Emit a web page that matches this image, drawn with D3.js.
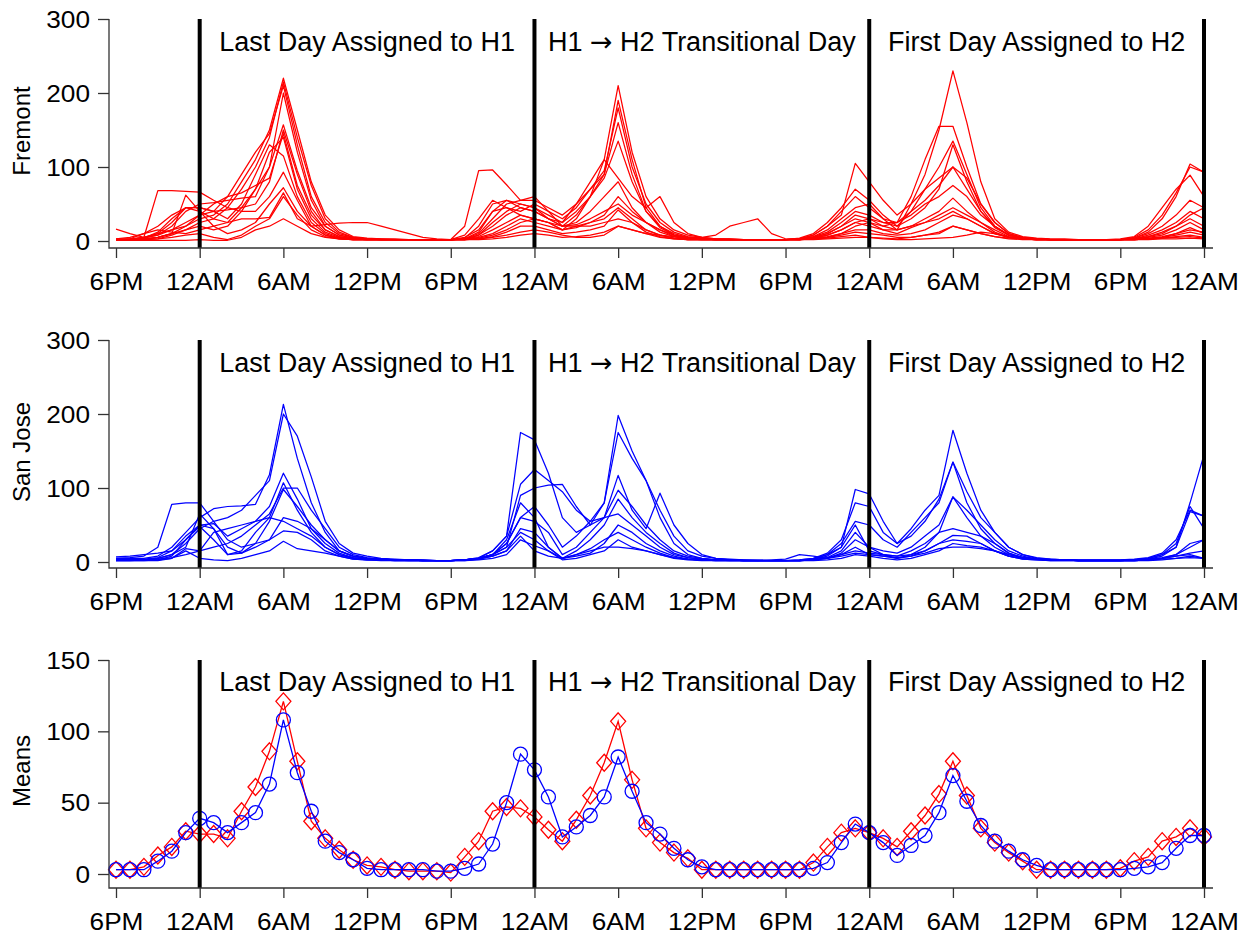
<!DOCTYPE html>
<html>
<head>
<meta charset="utf-8">
<script src="https://cdn.jsdelivr.net/npm/d3@7"></script>
<style>
  body { margin: 0; background: #fff; }
  text { font-family: "Liberation Sans", Arial, Helvetica, sans-serif; fill: #000; }
</style>
</head>
<body>
<svg id="chart" width="1252" height="939"></svg>
<script>
// hours since 6PM on the evening before the last H1 day
var tickHours = [0, 6, 12, 18, 24, 30, 36, 42, 48, 54, 60, 66, 72, 78];
var tickLabels = ['6PM', '12AM', '6AM', '12PM', '6PM', '12AM', '6AM', '12PM', '6PM', '12AM', '6AM', '12PM', '6PM', '12AM'];
var dayBreaks = [6, 30, 54, 78];
var dayLabelHours = [18, 42, 66];
// each label split around the arrow so the arrow can use a font that has a proper glyph
var dayLabels = [['Last Day Assigned to H1'], ['H1 ', '\u2192', ' H2 Transitional Day'], ['First Day Assigned to H2']];

// hourly counts, Fremont (one row per transition)
var fremont = [
  [2,2,3,5,10,20, 30,35,50,80,110,150, 220,150,80,35,15,6, 4,3,3,2,2,2, 2,5,15,40,55,50, 45,35,25,50,80,110, 210,120,60,30,15,8, 5,3,3,2,2,2, 2,3,8,20,40,60, 45,30,15,50,90,150, 230,160,80,30,12,6, 4,3,3,2,2,2, 2,5,15,35,65,100, 93],
  [1,1,2,3,8,15, 25,30,45,70,100,140, 215,140,75,30,12,5, 3,2,2,2,1,1, 1,4,20,50,55,45, 40,30,20,35,60,90, 190,110,45,20,10,5, 3,2,2,2,2,2, 2,4,10,25,45,70, 55,35,20,40,70,100, 135,90,45,20,8,4, 3,2,2,2,2,2, 3,6,20,45,70,89, 60],
  [3,2,5,10,25,45, 45,40,60,90,120,145, 210,130,60,25,10,5, 3,3,2,2,2,2, 2,8,30,55,45,40, 50,40,30,45,70,95, 180,100,50,25,12,6, 4,3,3,2,2,2, 2,3,6,15,30,45, 50,30,25,60,110,155, 155,100,50,25,10,5, 3,2,2,2,2,2, 2,4,10,20,35,55, 45],
  [2,3,4,8,20,40, 50,52,55,58,60,100, 200,120,55,20,8,4, 3,2,2,2,2,2, 2,3,10,30,50,55, 55,45,35,50,70,90, 160,90,40,18,8,4, 3,2,2,2,2,2, 2,3,8,20,35,105, 80,55,35,50,70,85, 100,70,40,20,8,4, 3,2,2,2,2,2, 2,4,12,30,60,104, 93],
  [1,2,4,12,30,45, 40,30,25,45,70,100, 157,95,45,20,8,4, 3,2,2,2,2,2, 2,3,8,25,40,50, 45,30,25,40,60,85, 135,80,40,20,8,5, 3,2,2,2,2,2, 2,3,6,12,25,40, 35,25,20,30,45,70, 130,80,40,18,8,4, 3,2,2,2,2,2, 2,3,8,15,25,40, 30],
  [16,10,5,8,15,25, 35,40,42,45,50,80, 150,90,40,15,6,3, 2,2,2,2,2,2, 2,3,12,40,45,35, 30,25,15,30,60,110, 85,60,45,60,25,10, 5,3,2,2,2,2, 2,3,5,10,20,35, 30,20,25,40,55,75, 100,85,50,25,10,5, 3,2,2,2,2,2, 2,3,6,10,20,30, 20],
  [2,3,5,10,15,20, 35,50,60,65,75,85, 145,75,35,15,6,3, 2,2,2,2,2,2, 2,2,8,20,35,45, 40,30,20,25,40,60, 80,45,25,15,8,4, 3,2,2,2,2,2, 2,2,4,8,15,25, 30,25,25,35,50,60, 75,60,35,20,8,4, 3,2,2,2,2,2, 2,3,5,8,15,25, 15],
  [1,1,2,5,10,15, 20,15,20,40,70,120, 140,70,30,12,5,3, 2,2,2,2,2,2, 2,20,95,96,76,55, 60,40,20,20,25,35, 60,40,25,12,6,3, 2,2,2,2,2,2, 2,2,5,10,20,30, 25,15,15,20,30,40, 58,40,25,15,6,3, 2,2,2,2,2,2, 2,3,6,12,20,35, 45],
  [3,5,10,20,35,45, 45,40,30,50,90,130, 115,60,25,10,4,2, 2,2,2,2,2,2, 2,3,6,15,25,35, 30,25,20,22,30,40, 50,35,25,15,6,3, 2,2,2,2,2,2, 2,2,4,8,15,25, 20,15,10,18,25,35, 45,35,25,12,5,3, 2,2,2,2,2,2, 2,2,4,6,10,18, 10],
  [2,2,5,68,68,67, 66,55,45,40,40,60, 93,55,20,8,4,2, 2,2,2,2,2,2, 2,2,5,10,20,30, 25,20,15,18,25,30, 45,30,15,8,4,2, 2,2,2,2,2,2, 2,2,4,6,10,20, 25,20,15,20,25,30, 40,30,20,10,5,3, 2,2,2,2,2,2, 2,2,3,5,10,15, 12],
  [1,2,3,5,10,62, 40,20,10,15,25,50, 72,40,20,8,3,2, 2,2,2,2,2,2, 2,2,4,8,15,25, 30,25,15,20,20,25, 30,25,15,8,4,2, 2,2,2,2,2,2, 2,2,3,5,10,15, 15,10,8,10,15,25, 35,30,20,10,5,3, 2,2,2,2,2,2, 2,2,3,5,8,12, 8],
  [2,3,10,15,12,10, 15,20,25,30,30,32, 65,30,20,22,24,25, 25,20,15,10,5,3, 2,2,3,5,8,12, 15,12,8,5,5,8, 20,15,10,8,6,5, 5,8,20,25,30,10, 3,2,3,5,8,12, 10,8,5,5,8,10, 20,15,10,6,4,3, 2,2,2,2,2,2, 2,2,3,4,6,8, 5],
  [2,2,2,3,5,8, 10,5,2,8,20,30, 60,35,15,6,3,2, 2,2,2,2,2,2, 2,2,3,6,12,20, 20,15,10,12,15,20, 42,25,12,6,3,2, 2,2,2,2,2,2, 2,2,3,4,6,8, 5,3,2,2,3,4, 5,8,12,10,6,3, 2,2,2,2,2,2, 2,2,3,4,5,6, 4],
  [1,1,1,1,1,1, 2,1,1,5,15,20, 30,20,10,5,3,2, 2,2,2,2,2,2, 2,2,2,3,5,8, 10,8,5,6,8,12, 20,15,10,5,3,2, 2,2,2,2,2,2, 2,2,2,3,4,5, 5,4,3,5,8,12, 20,15,10,6,3,2, 2,2,2,2,2,2, 2,2,2,3,3,4, 3]
];

// hourly counts, San Jose
var sanJose = [
  [5,5,5,8,20,40, 60,72,75,76,78,118, 213,140,80,40,15,8, 5,4,3,3,2,2, 2,3,5,10,25,60, 75,50,20,35,55,80, 198,150,110,60,25,10, 5,3,3,2,2,2, 2,3,5,10,25,55, 50,30,20,40,60,80, 135,80,45,25,12,6, 4,3,3,2,2,2, 2,3,5,10,20,80, 145],
  [3,3,3,5,10,25, 45,55,60,70,90,110, 200,170,115,55,25,12, 8,5,4,3,3,2, 2,3,5,15,35,175, 165,120,60,40,50,80, 175,140,110,70,35,15, 8,5,4,3,3,2, 2,3,5,12,30,80, 75,40,25,45,70,90, 178,120,70,40,20,10, 6,4,3,3,3,3, 3,4,6,12,30,70, 62],
  [7,8,10,12,15,30, 50,52,35,45,55,75, 120,85,45,25,12,6, 4,3,3,2,2,2, 2,3,6,15,35,105, 125,110,95,70,55,60, 117,70,45,93,50,25, 10,5,3,3,2,2, 2,2,4,10,20,98, 92,55,25,35,55,85, 135,95,60,40,20,10, 5,4,3,3,3,3, 3,3,5,10,25,75, 45],
  [2,2,3,5,10,20, 65,45,10,15,40,60, 107,70,40,20,10,5, 3,3,2,2,2,2, 2,3,5,10,20,90, 100,104,105,75,50,60, 97,75,50,30,15,8, 5,3,3,2,2,2, 2,2,3,6,15,40, 20,15,12,20,35,50, 88,70,50,30,15,8, 4,3,3,2,2,2, 2,3,4,6,10,20, 30],
  [4,4,4,6,15,35, 50,45,20,12,25,55, 98,75,50,30,15,8, 5,4,3,3,3,2, 2,3,5,10,30,80, 60,20,5,15,30,50, 85,60,40,25,12,6, 4,3,3,2,2,2, 2,2,4,8,20,50, 15,10,8,15,25,40, 88,60,35,20,10,6, 4,3,3,2,2,2, 2,3,4,8,20,68, 62],
  [3,3,3,3,5,18, 15,40,45,50,55,60, 55,45,35,20,10,6, 4,3,3,3,2,2, 2,3,5,10,25,60, 55,40,10,20,40,60, 65,50,35,20,10,6, 4,3,3,2,2,2, 2,2,3,6,10,20, 10,8,5,10,20,40, 45,40,35,25,12,6, 4,3,3,2,2,2, 2,2,3,5,10,25, 30],
  [2,2,2,3,8,30, 48,30,10,12,20,30, 42,40,30,15,8,4, 3,3,2,2,2,2, 2,2,4,8,15,45, 40,20,5,10,18,30, 40,30,20,12,6,4, 3,3,2,2,2,2, 2,2,3,5,10,15, 12,10,8,10,15,25, 36,35,25,15,8,5, 4,3,3,2,2,2, 2,2,3,5,8,12, 15],
  [2,2,2,2,5,15, 5,3,2,5,10,15, 28,18,15,12,8,4, 3,2,2,2,2,2, 2,2,3,5,10,30, 22,15,3,5,10,15, 30,20,15,10,5,3, 2,2,2,2,2,2, 2,2,2,3,5,10, 8,5,3,5,10,15, 25,22,20,15,8,4, 3,2,2,2,2,2, 2,2,2,3,5,8, 5],
  [5,6,8,20,78,80, 80,55,30,20,25,30, 60,55,45,30,15,8, 5,4,3,3,2,2, 2,3,5,10,20,40, 30,15,5,8,12,25, 50,40,25,15,8,4, 3,2,2,2,2,2, 2,2,3,5,12,30, 20,10,5,8,15,25, 30,28,25,15,8,4, 3,2,2,2,2,2, 2,2,3,5,8,10, 5],
  [3,3,3,4,6,10, 15,20,25,35,50,65, 100,100,70,45,20,10, 6,4,3,3,2,2, 2,3,4,8,15,35, 15,8,5,10,15,20, 20,18,15,10,6,4, 3,2,2,2,2,3, 4,10,8,5,8,12, 10,8,6,8,12,18, 20,20,18,15,10,6, 4,3,3,2,2,2, 2,2,3,4,5,6, 5]
];

// hourly means (red diamonds = Fremont, blue circles = San Jose)
var meanFremont = [3,3,5,13,19,30, 28,28,25,44,61,86, 121,79,37,25,17,10, 6,5,3,2,2,2, 1,12,23,44,47,46, 40,31,23,38,55,78, 107,66,32,22,15,11, 3,3,3,3,3,3, 3,3,8,19,29,32, 29,25,19,30,41,56, 79,55,32,22,15,9, 3,3,3,3,3,3, 4,9,12,23,26,32, 26];
var meanSanJose = [3,3,3,9,16,29, 39,36,29,36,43,63, 108,71,44,23,15,10, 4,3,3,3,3,2, 2,4,7,21,50,84, 73,54,26,33,41,54, 82,58,36,28,18,10, 5,3,3,3,3,3, 3,3,4,8,22,35, 29,22,13,20,27,43, 69,51,34,23,16,10, 6,3,3,3,3,3, 3,4,5,8,18,27, 27];

var panels = [
  { title: 'Fremont', yMax: 300, yTicks: [0, 100, 200, 300], zero: 241, top: 19, axisY: 248, titleY: 131 },
  { title: 'San Jose', yMax: 300, yTicks: [0, 100, 200, 300], zero: 562, top: 340, axisY: 568, titleY: 452 },
  { title: 'Means', yMax: 150, yTicks: [0, 50, 100, 150], zero: 874, top: 660, axisY: 888, titleY: 771 }
];

var svg = d3.select('#chart');
var x = d3.scaleLinear().domain([0, 78]).range([116, 1204]);
var axisLeftX = 109, axisRightX = 1213;
var stretch = 1.14;

panels.forEach(function(p, pi) {
  var y = d3.scaleLinear().domain([0, p.yMax]).range([p.zero, p.top]);
  var g = svg.append('g');

  var line = d3.line()
    .x(function(d, i) { return x(i); })
    .y(function(d) { return y(d); });

  // data
  if (pi < 2) {
    var rows = pi === 0 ? fremont : sanJose;
    var color = pi === 0 ? '#ff0000' : '#0000ff';
    g.append('g').selectAll('path')
      .data(rows).enter().append('path')
      .attr('d', line)
      .style('fill', 'none')
      .style('stroke', color)
      .style('stroke-width', 1.25)
      .style('stroke-linejoin', 'round');
  } else {
    var series = [
      { vals: meanFremont, color: '#ff0000', shape: 'diamond' },
      { vals: meanSanJose, color: '#0000ff', shape: 'circle' }
    ];
    series.forEach(function(s) {
      g.append('path')
        .attr('d', line(s.vals))
        .style('fill', 'none')
        .style('stroke', s.color)
        .style('stroke-width', 1.3);
      var pts = g.append('g').selectAll('.pt')
        .data(s.vals).enter();
      if (s.shape === 'diamond') {
        pts.append('path')
          .attr('d', 'M0,-8.5L7.5,0L0,8.5L-7.5,0Z')
          .attr('transform', function(d, i) { return 'translate(' + x(i) + ',' + y(d) + ')'; })
          .style('fill', 'none')
          .style('stroke', s.color)
          .style('stroke-width', 1.3);
      } else {
        pts.append('circle')
          .attr('cx', function(d, i) { return x(i); })
          .attr('cy', function(d) { return y(d); })
          .attr('r', 7)
          .style('fill', 'none')
          .style('stroke', s.color)
          .style('stroke-width', 1.3);
      }
    });
  }

  // day separators
  g.append('g').selectAll('line')
    .data(dayBreaks).enter().append('line')
    .attr('x1', function(d) { return x(d); })
    .attr('x2', function(d) { return x(d); })
    .attr('y1', p.top)
    .attr('y2', p.axisY)
    .style('stroke', '#000')
    .style('stroke-width', 4);

  // day labels
  var labels = g.append('g').selectAll('text')
    .data(dayLabels).enter().append('text')
    .attr('x', function(d, i) { return x(dayLabelHours[i]); })
    .attr('y', y(p.yMax * 0.855))
    .attr('text-anchor', 'middle')
    .style('font-size', '27px');
  labels.selectAll('tspan')
    .data(function(d) { return d; }).enter().append('tspan')
    .style('font-family', function(d) { return d === '\u2192' ? '"DejaVu Sans", sans-serif' : null; })
    .style('font-weight', function(d) { return d === '\u2192' ? 'normal' : null; })
    .text(function(d) { return d; });

  // axes
  var xAxis = d3.axisBottom(x)
    .tickValues(tickHours)
    .tickSize(10)
    .tickSizeOuter(0)
    .tickFormat(function(d, i) { return tickLabels[i]; });
  var xg = g.append('g')
    .attr('transform', 'translate(0,' + p.axisY + ')')
    .call(xAxis);
  xg.select('.domain').remove();
  xg.selectAll('line').style('stroke', '#333').style('stroke-width', 1.3);
  xg.selectAll('text')
    .attr('y', 0).attr('dy', 0)
    .attr('transform', 'translate(0,42) scale(' + stretch + ',1)')
    .style('font-size', '23px')
    .style('font-family', '"Liberation Sans", Arial, sans-serif')
    .style('fill', '#000');

  var yAxis = d3.axisLeft(y)
    .tickValues(p.yTicks)
    .tickSize(11)
    .tickSizeOuter(0);
  var yg = g.append('g')
    .attr('transform', 'translate(' + axisLeftX + ',0)')
    .call(yAxis);
  yg.select('.domain').remove();
  yg.selectAll('line').style('stroke', '#333').style('stroke-width', 1.3);
  yg.selectAll('text')
    .attr('x', 0).attr('dy', 0)
    .attr('transform', 'translate(-19,8) scale(' + stretch + ',1)')
    .style('font-size', '23px')
    .style('font-family', '"Liberation Sans", Arial, sans-serif')
    .style('fill', '#000');

  // L-shaped frame
  g.append('path')
    .attr('d', 'M' + axisLeftX + ',' + y(p.yMax) + 'V' + p.axisY + 'H' + axisRightX)
    .style('fill', 'none')
    .style('stroke', '#333')
    .style('stroke-width', 1.3);

  g.append('text')
    .attr('transform', 'translate(30,' + p.titleY + ') rotate(-90)')
    .attr('text-anchor', 'middle')
    .style('font-size', '24px')
    .text(p.title);
});
</script>
</body>
</html>
